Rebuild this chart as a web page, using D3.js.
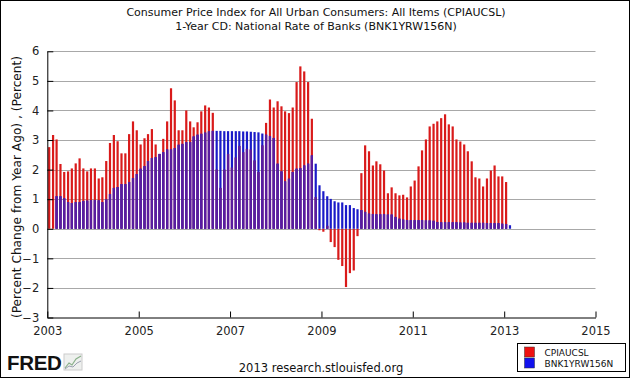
<!DOCTYPE html>
<html><head><meta charset="utf-8">
<script src="https://cdn.jsdelivr.net/npm/d3@7"></script>
<style>body{margin:0;background:#fff}svg{display:block}</style>
</head><body><svg id="c" width="630" height="378"></svg>
<script>
const title1 = "Consumer Price Index for All Urban Consumers: All Items (CPIAUCSL)";
const title2 = "1-Year CD: National Rate of Banks (BNK1YRW156N)";
const yLabel = "(Percent Change from Year Ago) , (Percent)";
const seriesNames = ["CPIAUCSL", "BNK1YRW156N"];
const credit = "2013 research.stlouisfed.org";
const firstYear = 2003, firstMonthIndex = 0;
// CPIAUCSL, percent change from year ago, monthly Jan 2003 - Jan 2013
const cpi = [
  2.76, 3.17, 3.02, 2.19, 1.92, 1.94, 2.04, 2.21, 2.38, 2.04, 1.94, 2.04,
  2.04, 1.70, 1.74, 2.29, 2.90, 3.17, 2.96, 2.55, 2.55, 3.20, 3.63, 3.33,
  2.85, 3.06, 3.20, 3.37, 2.85, 2.53, 3.04, 3.63, 4.75, 4.34, 3.33, 3.33,
  4.00, 3.63, 3.43, 3.60, 3.97, 4.17, 4.10, 3.92, 2.00, 1.38, 2.00, 2.53,
  2.07, 2.41, 2.80, 2.59, 2.70, 2.68, 2.31, 1.92, 2.82, 3.58, 4.37, 4.10,
  4.31, 4.14, 3.97, 3.91, 4.10, 4.96, 5.49, 5.32, 4.96, 3.72, 1.07, -0.05,
  -0.10, 0.10, -0.45, -0.62, -1.05, -1.26, -1.97, -1.50, -1.41, -0.25, 1.88, 2.82,
  2.62, 2.14, 2.28, 2.18, 1.97, 1.20, 1.40, 1.20, 1.13, 1.15, 1.06, 1.43,
  1.63, 2.11, 2.65, 3.02, 3.46, 3.55, 3.63, 3.74, 3.87, 3.53, 3.46, 3.02,
  2.95, 2.85, 2.62, 2.28, 1.74, 1.70, 1.43, 1.70, 1.97, 2.14, 1.77, 1.77,
  1.58
];
// BNK1YRW156N, percent, monthly Jan 2003 - Feb 2013
const cd = [
  null, null, 1.10, 1.10, 1.03, 0.90, 0.87, 0.90, 0.90, 0.94, 0.95, 0.96,
  0.97, 0.96, 0.90, 0.99, 1.17, 1.38, 1.41, 1.51, 1.51, 1.58, 1.71, 1.85,
  2.03, 2.12, 2.29, 2.39, 2.42, 2.53, 2.59, 2.68, 2.68, 2.73, 2.84, 2.87,
  2.93, 2.93, 3.12, 3.18, 3.21, 3.25, 3.29, 3.31, 3.31, 3.31, 3.30, 3.30,
  3.30, 3.30, 3.30, 3.29, 3.29, 3.28, 3.27, 3.26, 3.22, 3.18, 3.13, 3.07,
  2.20, 1.94, 1.60, 1.69, 1.92, 2.03, 2.05, 2.14, 2.20, 2.48, 2.20, 1.47,
  1.27, 1.10, 1.01, 0.93, 0.89, 0.89, 0.80, 0.80, 0.70, 0.66, 0.63, 0.57,
  0.51, 0.50, 0.49, 0.49, 0.49, 0.48, 0.48, 0.40, 0.34, 0.31, 0.29, 0.29,
  0.29, 0.29, 0.29, 0.28, 0.28, 0.27, 0.23, 0.22, 0.22, 0.22, 0.22, 0.22,
  0.21, 0.21, 0.20, 0.20, 0.20, 0.20, 0.20, 0.19, 0.19, 0.19, 0.19, 0.17,
  0.16, 0.12
];
const xTickYears = [2003, 2005, 2007, 2009, 2011, 2013, 2015];
const yTicks = [-3, -2, -1, 0, 1, 2, 3, 4, 5, 6];

const colors = { red: "#d91a1a", blue: "#1a1ac8", both: "#5a1c9e" };
const svg = d3.select("#c");
const font = "'DejaVu Sans', Verdana, sans-serif";

svg.append("rect").attr("x", 0.5).attr("y", 0.5).attr("width", 629).attr("height", 377)
  .attr("fill", "#fff").attr("stroke", "#000");

const x = d3.scaleTime()
  .domain([new Date(2003, 0, 1), new Date(2015, 0, 1)])
  .range([47.3, 595.5]);
const y = d3.scaleLinear().domain([-3, 6]).range([317.5, 51.3]);

const n = Math.max(cpi.length, cd.length);
const rows = d3.range(n).map(i => ({
  date: new Date(firstYear, firstMonthIndex + i, 1),
  cpi: i < cpi.length ? cpi[i] : null,
  cd: i < cd.length ? cd[i] : null
}));

// titles
svg.append("text").attr("x", 316).attr("y", 16).attr("text-anchor", "middle")
  .attr("font-family", font).attr("font-size", 11).attr("fill", "#111").text(title1);
svg.append("text").attr("x", 316).attr("y", 30).attr("text-anchor", "middle")
  .attr("font-family", font).attr("font-size", 11).attr("fill", "#111").text(title2);

// grid
svg.append("g").selectAll("line").data(yTicks.filter(t => t > -3)).join("line")
  .attr("x1", x.range()[0]).attr("x2", x.range()[1])
  .attr("y1", d => Math.round(y(d)) + 0.5).attr("y2", d => Math.round(y(d)) + 0.5)
  .attr("stroke", "#a8a8a8").attr("stroke-width", 1);

const bw = 2.2, off = 0.8;
const bars = svg.append("g");
bars.selectAll("rect.r").data(rows.filter(d => d.cpi !== null)).join("rect").attr("class", "r")
  .attr("x", d => x(d.date) + off).attr("width", bw)
  .attr("y", d => y(Math.max(0, d.cpi))).attr("height", d => Math.abs(y(d.cpi) - y(0)))
  .attr("fill", colors.red);
bars.selectAll("rect.b").data(rows.filter(d => d.cd !== null)).join("rect").attr("class", "b")
  .attr("x", d => x(d.date) + off).attr("width", bw)
  .attr("y", d => y(Math.max(0, d.cd))).attr("height", d => Math.abs(y(d.cd) - y(0)))
  .attr("fill", colors.blue);
bars.selectAll("rect.o").data(rows.filter(d => d.cd !== null && d.cpi !== null && d.cpi > 0)).join("rect").attr("class", "o")
  .attr("x", d => x(d.date) + off).attr("width", bw)
  .attr("y", d => y(Math.min(d.cpi, d.cd))).attr("height", d => y(0) - y(Math.min(d.cpi, d.cd)))
  .attr("fill", colors.both);

// axes
const xAxis = d3.axisBottom(x).tickValues(xTickYears.map(yv => new Date(yv, 0, 1)))
  .tickFormat(d3.timeFormat("%Y")).tickSizeInner(-6).tickSizeOuter(0).tickPadding(9);
const gx = svg.append("g").attr("transform", `translate(0,${y(-3)})`).call(xAxis);
const yAxis = d3.axisLeft(y).tickValues(yTicks).tickFormat(d3.format("d"))
  .tickSizeInner(-6).tickSizeOuter(0).tickPadding(8);
const gy = svg.append("g").attr("transform", `translate(${x.range()[0]},0)`).call(yAxis);
[gx, gy].forEach(g => {
  g.selectAll("path.domain").attr("stroke", "#000");
  g.selectAll(".tick line").attr("stroke", "#000");
  g.selectAll("text").attr("font-family", font).attr("font-size", 11.5).attr("fill", "#222");
});

// y label
svg.append("text").attr("transform", "translate(21,187) rotate(-90)").attr("text-anchor", "middle")
  .attr("font-family", font).attr("font-size", 12.2).attr("fill", "#111").text(yLabel);

// FRED logo
svg.append("text").attr("x", 7).attr("y", 370).attr("font-family", "'Liberation Sans', Arial, sans-serif")
  .attr("font-weight", "bold").attr("font-size", 20.5).attr("letter-spacing", -0.3).attr("fill", "#111").text("FRED");
const icon = svg.append("g").attr("transform", "translate(64,354)");
icon.append("rect").attr("width", 18).attr("height", 16).attr("fill", "#eef0ee").attr("stroke", "#ccc");
icon.append("polyline").attr("points", "1,14 5,9 8,11 12,5 17,2").attr("fill", "none").attr("stroke", "#8ab08a").attr("stroke-width", 1.2);
icon.append("polyline").attr("points", "1,15 5,12 9,13 13,9 17,7").attr("fill", "none").attr("stroke", "#9aa0b0").attr("stroke-width", 1);

// credit
svg.append("text").attr("x", 321).attr("y", 372).attr("text-anchor", "middle")
  .attr("font-family", font).attr("font-size", 11.5).attr("fill", "#111").text(credit);

// legend
const lg = svg.append("g").attr("transform", "translate(517.5,343.5)");
lg.append("rect").attr("width", 108).attr("height", 28).attr("fill", "#fff").attr("stroke", "#000");
seriesNames.forEach((name, i) => {
  lg.append("rect").attr("x", 7).attr("y", 3.5 + i * 11).attr("width", 10).attr("height", 10)
    .attr("fill", i === 0 ? "#ee1111" : "#1111ee").attr("stroke", "#333").attr("stroke-width", 0.5);
  lg.append("text").attr("x", 27).attr("y", 12 + i * 11).attr("font-family", font)
    .attr("font-size", 9).attr("fill", "#111").text(name);
});
</script></body></html>
